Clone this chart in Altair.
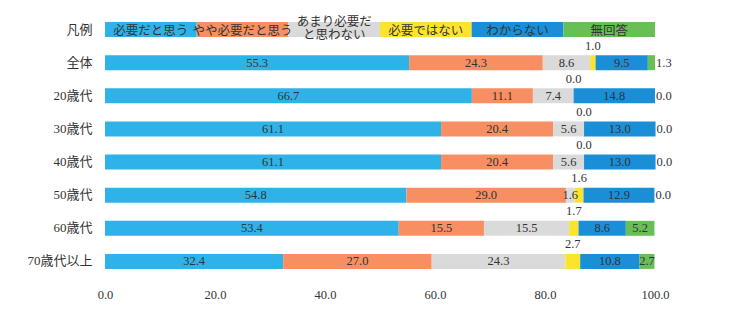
import altair as alt
import pandas as pd

categories = ["全体", "20歳代", "30歳代", "40歳代", "50歳代", "60歳代", "70歳代以上"]
series = ["必要だと思う", "やや必要だと思う", "あまり必要だと思わない", "必要ではない", "わからない", "無回答"]
legend_labels = ["必要だと思う", "やや必要だと思う", "あまり必要だ\nと思わない", "必要ではない", "わからない", "無回答"]
legend_row = "凡例"
s1 = [55.3, 66.7, 61.1, 61.1, 54.8, 53.4, 32.4]
s2 = [24.3, 11.1, 20.4, 20.4, 29.0, 15.5, 27.0]
s3 = [8.6, 7.4, 5.6, 5.6, 1.6, 15.5, 24.3]
s4 = [1.0, 0.0, 0.0, 0.0, 1.6, 1.7, 2.7]
s5 = [9.5, 14.8, 13.0, 13.0, 12.9, 8.6, 10.8]
s6 = [1.3, 0.0, 0.0, 0.0, 0.0, 5.2, 2.7]
colors = ["#2fb2e8", "#f78f62", "#dadada", "#fde42c", "#1a8fd8", "#68bf55"]
x_ticks = [0, 20, 40, 60, 80, 100]

SERIF = "'Liberation Serif', 'DejaVu Serif', 'Noto Sans CJK JP', serif"
TXT = "#333333"

all_vals = [s1, s2, s3, s4, s5, s6]
rows = []
for ci, cat in enumerate(categories):
    cum = 0.0
    for si, name in enumerate(series):
        v = all_vals[si][ci]
        if si == 3:
            pos = "above"
        elif si == 5 and v < 2:
            pos = "right"
        else:
            pos = "in"
        rows.append(dict(cat=cat, series=name, value=v, start=cum, end=cum + v,
                         mid=cum + v / 2, pos=pos))
        cum += v
df = pd.DataFrame(rows)

n = len(series)
leg = pd.DataFrame(dict(cat=[legend_row] * n, series=series, label=legend_labels,
                        start=[i * 100 / n for i in range(n)],
                        end=[(i + 1) * 100 / n for i in range(n)]))
leg["mid"] = (leg["start"] + leg["end"]) / 2
leg["multi"] = leg["label"].str.contains("\n")

ydom = [legend_row] + categories
y_enc = alt.Y("cat:N", scale=alt.Scale(domain=ydom, paddingInner=0, paddingOuter=0),
              sort=ydom,
              axis=alt.Axis(title=None, ticks=False, domain=False, labelPadding=13,
                            labelFontSize=13, labelFont=SERIF, labelColor=TXT))
x_scale = alt.Scale(domain=[0, 100], nice=False)
x_axis = alt.Axis(title=None, values=x_ticks, format=".1f", grid=False, ticks=False,
                  domain=False, labelPadding=10, labelFontSize=12.5, labelFont=SERIF,
                  labelColor=TXT, labelFlush=False)
col = alt.Color("series:N", scale=alt.Scale(domain=series, range=colors), legend=None)

bars = alt.Chart(df).mark_bar(size=15).encode(
    x=alt.X("start:Q", scale=x_scale, axis=x_axis), x2="end:Q", y=y_enc, color=col)

legbars = alt.Chart(leg).mark_bar(size=15).encode(
    x=alt.X("start:Q", scale=x_scale), x2="end:Q", y=y_enc, color=col)

legtext = alt.Chart(leg).transform_filter(~alt.datum.multi).mark_text(
    font=SERIF, fontSize=12.5, color=TXT, dy=1).encode(
    x=alt.X("mid:Q", scale=x_scale), y=y_enc, text="label:N")

legtext2 = alt.Chart(leg).transform_filter(alt.datum.multi).mark_text(
    font=SERIF, fontSize=12.5, color=TXT, lineBreak="\n", lineHeight=13, dy=-8).encode(
    x=alt.X("mid:Q", scale=x_scale), y=y_enc, text="label:N")

txt_in = alt.Chart(df).transform_filter(alt.datum.pos == "in").mark_text(
    font=SERIF, fontSize=12.5, color=TXT).encode(
    x=alt.X("mid:Q", scale=x_scale), y=y_enc, text=alt.Text("value:Q", format=".1f"))

txt_above = alt.Chart(df).transform_filter(alt.datum.pos == "above").mark_text(
    font=SERIF, fontSize=12.5, color=TXT, dy=-17).encode(
    x=alt.X("mid:Q", scale=x_scale), y=y_enc, text=alt.Text("value:Q", format=".1f"))

txt_right = alt.Chart(df).transform_filter(alt.datum.pos == "right").mark_text(
    font=SERIF, fontSize=12.5, color=TXT, align="left", dx=1).encode(
    x=alt.X("end:Q", scale=x_scale), y=y_enc, text=alt.Text("value:Q", format=".1f"))

chart = alt.layer(bars, legbars, legtext, legtext2, txt_in, txt_above, txt_right).properties(
    width=550, height=265,
    padding={"left": 105, "top": 13, "right": 75, "bottom": 47},
    autosize=alt.AutoSizeParams(type="none"),
    background="white",
).configure_view(stroke=None)

chart.save("out.html", embed_options={"renderer": "svg", "actions": False})
